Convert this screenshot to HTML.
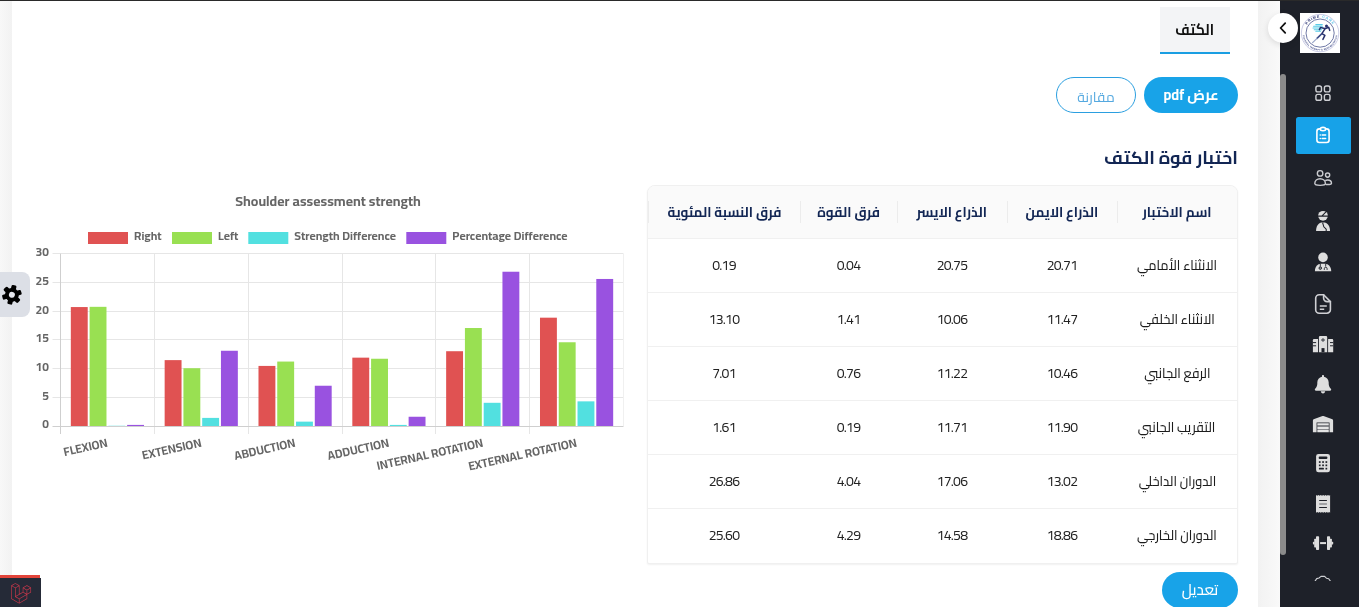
<!DOCTYPE html>
<html lang="ar" dir="rtl">
<head>
<meta charset="utf-8">
<title>اختبار قوة الكتف</title>
<style>
*{box-sizing:border-box;margin:0;padding:0}
html,body{width:1359px;height:607px;overflow:hidden;background:#f5f5f5}
body{position:relative;font-family:"Cairo","Liberation Sans","DejaVu Sans",sans-serif;font-size:14px;color:#1f2937;font-size-adjust:0.5}
.abs{position:absolute}
#topline{left:0;top:0;width:1359px;height:1px;background:#2a2a2a;z-index:50}
#leftstrip{left:0;top:2px;width:12px;height:605px;background:linear-gradient(90deg,#f8f8f8,#f2f2f2)}
#main{left:12px;top:1px;width:1246px;height:606px;background:#fff}
#rightstrip{left:1258px;top:1px;width:22px;height:606px;background:linear-gradient(90deg,#f2f2f2,#f9f9f9)}
#sidebar{left:1280px;top:1px;width:79px;height:606px;background:#1e2129}
#thumb{left:1280px;top:74px;width:6px;height:481px;background:#8b8b8b;border-radius:3px}
#collapse{left:1268px;top:13px;width:30px;height:30px;border-radius:50%;background:#fff;box-shadow:0 2px 6px rgba(0,0,0,.12)}

/* tab */
#tab{left:1160px;top:7px;width:70px;height:47px;background:#f3f4f6;border-bottom:2px solid #1a9ee2;display:flex;align-items:center;justify-content:center;font-weight:700;font-size:16px;color:#111;line-height:24px;padding-bottom:1px}
.btn{position:absolute;height:36px;border-radius:18px;display:flex;align-items:center;justify-content:center;font-size:14px;line-height:20px}
#btn-pdf{left:1144px;top:77px;width:94px;background:#18a3e8;color:#fff;font-weight:700;font-size:14.5px}
#btn-cmp{left:1056px;top:77px;width:80px;background:#fff;border:1px solid #2b9fe0;color:#55a9e0;padding-top:3px}
#btn-edit{left:1162px;top:572px;width:76px;background:#18a3e8;color:#fff;font-size:15px;font-weight:500}
#h2{right:121px;top:140px;height:36px;line-height:36px;font-size:18px;font-weight:700;color:#122654;white-space:nowrap}

/* table */
#tbl{left:647px;top:185px;width:591px;height:379px;border:1px solid #f0f0f0;border-radius:8px 8px 2px 2px;background:#fff;overflow:hidden;box-shadow:0 1px 2px rgba(0,0,0,.06)}
.row{position:absolute;left:0;width:589px;height:54px;border-top:1px solid #f0f0f0}
.row.head{top:0;height:52px;background:#fafafa;border-top:0;font-weight:700;color:#122654}
.cell{position:absolute;top:0;height:100%;display:flex;align-items:center;justify-content:center;white-space:nowrap;line-height:22px}
.c1{left:469px;width:120px}.c2{left:359px;width:110px}.c3{left:249px;width:110px}.c4{left:152px;width:97px}.c5{left:0;width:152px}
.head .cell::before{content:"";position:absolute;left:0;top:15px;width:1px;height:22px;background:#ececec}
.num{direction:ltr;color:#222;letter-spacing:-0.8px}
.c1 span{display:inline-block;transform:scaleX(.91);font-weight:500;color:#1c1c1c}
.head .cell span{display:inline-block;transform:scaleX(.96);font-weight:700;color:#122654}
.row:not(.head) .cell{padding-bottom:2px}
</style>
</head>
<body>
<div id="leftstrip" class="abs"></div>
<div id="main" class="abs"></div>
<div id="rightstrip" class="abs"></div>
<div id="sidebar" class="abs"></div>
<div id="topline" class="abs"></div>
<div id="thumb" class="abs"></div>

<!-- ICONS-START -->
<div id="collapse" class="abs"></div>
<svg class="abs" style="left:1260px;top:0" width="99" height="607" viewBox="1260 0 99 607">
  <!-- collapse chevron -->
  <path d="M1285.2 23.2 L1280.6 28 L1285.2 32.8" fill="none" stroke="#111" stroke-width="1.8" stroke-linecap="round" stroke-linejoin="round"/>
  <!-- logo -->
  <rect x="1300" y="13" width="40" height="40" fill="#fff"/>
  <circle cx="1320.100" cy="33.100" r="18.700" fill="none" stroke="#8d90c6" stroke-width="0.45"/>
  <circle cx="1320.100" cy="33.100" r="14.100" fill="none" stroke="#34407f" stroke-width="0.7"/>
  <path id="lgarc" d="M1304.800 33.100 A15.300 15.300 0 0 1 1335.400 33.100" fill="none"/>
  <path id="lgarc2" d="M1302.600 33.100 A17.500 17.500 0 0 0 1337.600 33.100" fill="none"/>
  <text font-family="'Liberation Sans',sans-serif" font-size="3.9" font-weight="700" fill="#2b3573" letter-spacing="0.75" direction="ltr"><textPath href="#lgarc" startOffset="50%" text-anchor="middle">PRIME <tspan fill="#5cc4ea">CARE</tspan></textPath></text>
  <text font-family="'Liberation Sans',sans-serif" font-size="2.4" font-weight="700" fill="#3b4686" letter-spacing="0.15" direction="ltr"><textPath href="#lgarc2" startOffset="50%" text-anchor="middle">PHYSICAL THERAPY &amp; REHABILITATION</textPath></text>
  <g>
    <path d="M1315.800 24.600h6.500M1313.600 26.300h8.800M1313 28h9.400M1314.200 29.700h7.400M1315.800 31.300h4.800" stroke="#58cbe6" stroke-width="1.050" fill="none" stroke-linecap="round"/>
    <circle cx="1326.500" cy="26" r="1.500" fill="#26306b"/>
    <path d="M1325.300 28.300 L1321.900 33.600 M1321.900 33.600 L1324.900 35.400 L1322.900 39.400 M1324.900 28.700 L1328.700 27.200 L1329.700 30.400 M1324.500 28.500 L1320.600 27.400 L1319.400 29.600" fill="none" stroke="#26306b" stroke-width="1.5" stroke-linecap="round" stroke-linejoin="round"/>
    <path d="M1321.900 33.600 L1317 38.400" fill="none" stroke="#3a4a86" stroke-width="1.500" stroke-linecap="round"/>
    <path d="M1317 38.400 L1312.600 42.600" fill="none" stroke="#9aa6c8" stroke-width="1.200" stroke-linecap="round"/>
  </g>

  <!-- 1 grid -->
  <g fill="none" stroke="#cfd0d4" stroke-width="1.4">
    <rect x="1315.9" y="86" width="5.6" height="5.9" rx="1.9"/>
    <rect x="1324.4" y="86" width="5.6" height="5.9" rx="1.9"/>
    <rect x="1315.9" y="94.4" width="5.6" height="5.9" rx="1.9"/>
    <rect x="1324.4" y="94.4" width="5.6" height="5.9" rx="1.9"/>
  </g>
  <!-- 2 active clipboard -->
  <rect x="1296" y="117" width="55" height="37" rx="2.5" fill="#17a2e8"/>
  <g fill="none" stroke="#fff" stroke-width="1.6" stroke-linecap="round" stroke-linejoin="round">
    <path d="M1320.2 128.9h-0.8a2.5 2.5 0 0 0-2.5 2.5v8.6a2.5 2.5 0 0 0 2.5 2.5h7.2a2.5 2.5 0 0 0 2.5-2.5v-8.6a2.5 2.5 0 0 0-2.5-2.5h-0.8"/>
    <ellipse cx="1323" cy="129.1" rx="2.7" ry="1.7"/>
    <path d="M1322.2 135h3.4M1322.2 138.5h3.4"/>
    <path d="M1320.2 135h0.1M1320.2 138.5h0.1" stroke-width="1.5"/>
  </g>
  <!-- 3 users -->
  <g fill="none" stroke="#cbccd0" stroke-width="1.4">
    <circle cx="1320.1" cy="173.4" r="2.75"/>
    <circle cx="1327.6" cy="175.1" r="2.1"/>
    <path d="M1314.8 183.6c0-2.9 2.4-4.9 5.3-4.9s5.3 2 5.3 4.9c0 1.2-2.4 1.8-5.3 1.8s-5.3-0.6-5.3-1.8z"/>
    <path d="M1325.2 180.6c0.7-0.4 1.5-0.6 2.4-0.6c2.2 0 3.9 1.4 3.9 3.2c0 0.9-1.8 1.3-3.9 1.3c-0.8 0-1.500-0.050-2.200-0.200"/>
  </g>
  <!-- 4 user injured -->
  <g fill="#dedede">
    <circle cx="1323" cy="215.8" r="4.850"/>
    <path d="M1316.1 231c0-5 2.600-8.200 5.400-8.400h3c2.800 0.200 5.500 3.400 5.500 8.400z"/>
  </g>
  <path d="M1318 216.100h10M1321.8 216.100l4.200-4.300M1322.600 222.600l1.200 4.200l2.400 2.400v1.800" stroke="#1e2129" stroke-width="1.1" fill="none"/>
  <!-- 5 doctor -->
  <g fill="#dedede">
    <circle cx="1323" cy="257.400" r="4.800"/>
    <path d="M1314.900 271.200c0-4.400 2.600-7.300 6.100-7.400h4c3.500 0.100 6.200 3 6.200 7.400z"/>
  </g>
  <g fill="none" stroke="#1e2129" stroke-width="0.9">
    <path d="M1320.300 263.800v2.800M1325.700 263.800v2.800"/>
    <circle cx="1320.300" cy="268.100" r="1.300" fill="#8f9094"/>
    <path d="M1324.300 269.900v-1.200a1.400 1.400 0 0 1 2.800 0v1.200"/>
  </g>
  <!-- 6 document -->
  <g fill="none" stroke="#cfd0d4" stroke-width="1.6" stroke-linejoin="round" stroke-linecap="round">
    <path d="M1323.600 294.800h-4.400a3.500 3.500 0 0 0-3.500 3.500v11.400a3.500 3.500 0 0 0 3.500 3.500h7.700a3.500 3.500 0 0 0 3.500-3.500v-8.100z"/>
    <path d="M1323.600 294.800v3.300a3.500 3.500 0 0 0 3.500 3.500h3.300"/>
    <path d="M1319.800 306h7M1319.800 309.300h4.400" stroke-width="1.500" stroke-linecap="butt"/>
  </g>
  <!-- 7 hospital -->
  <g fill="#dedede">
    <path d="M1318.900 337.200a1.200 1.200 0 0 1 1.200-1.200h5.900a1.200 1.200 0 0 1 1.200 1.200v15h-8.300z"/>
    <path d="M1312.900 340.200a1.100 1.100 0 0 1 1.100-1.100h4v13.100h-5.100z"/>
    <path d="M1328.100 339.100h4a1.100 1.100 0 0 1 1.100 1.100v12h-5.100z"/>
  </g>
  <g stroke="#1e2129" fill="none">
    <path d="M1312.900 342.600h3.200M1312.900 345.800h3.200M1333.200 342.600h-3.200M1333.200 345.800h-3.200" stroke-width="1"/>
    <path d="M1321.500 352.200v-4.100h3v4.100z" fill="#1e2129" stroke="none"/>
  </g>
  <path d="M1322.300 338.200h1.400v1.100h1.100v1.400h-1.100v1.100h-1.400v-1.100h-1.100v-1.400h1.100z" fill="#55585f"/>
  <!-- 8 bell -->
  <g fill="#dedede">
    <path d="M1323 375c0.600 0 1 0.400 1 1v0.700c2.800 0.500 4.700 2.800 4.700 5.800v1.200c0 1.800 0.700 3.500 1.900 4.800l0.300 0.300c0.400 0.400 0.400 0.900 0.200 1.300c-0.200 0.400-0.600 0.600-1 0.600h-14.200c-0.400 0-0.800-0.200-1-0.600c-0.200-0.400-0.200-0.900 0.200-1.300l0.300-0.300c1.200-1.300 1.900-3 1.900-4.800v-1.200c0-3 1.900-5.300 4.700-5.800v-0.700c0-0.600 0.400-1 1-1z"/>
    <path d="M1320.800 391.300h4.400c0 1.200-1 2.100-2.200 2.100s-2.200-0.900-2.200-2.100z"/>
  </g>
  <!-- 9 warehouse -->
  <path d="M1312.900 420.400c0-0.500 0.300-0.900 0.700-1.100l8.900-3.300c0.300-0.100 0.700-0.100 1 0l8.900 3.300c0.400 0.200 0.700 0.600 0.700 1.100v11.800h-3.600v-9.600h-12.900v9.600h-3.700z" fill="#dedede"/>
  <path d="M1317.300 423.300h11.500v2.300h-11.500zM1317.300 426.600h11.500v2.300h-11.500zM1317.300 429.900h11.500v2.300h-11.500z" fill="#e4e4e4"/>
  <path d="M1317.300 425.600h11.500v1h-11.500zM1317.300 428.900h11.500v1h-11.500z" fill="#8b8c90"/>
  <!-- 10 calculator -->
  <rect x="1316.100" y="453.900" width="13.900" height="18.400" rx="2.400" fill="#dedede"/>
  <g fill="#1e2129">
    <rect x="1318.700" y="456.600" width="8.700" height="2.500" rx="1"/>
    <rect x="1318.900" y="461.200" width="1.700" height="1.700"/><rect x="1322.200" y="461.200" width="1.700" height="1.700"/><rect x="1325.500" y="461.200" width="1.700" height="1.700"/>
    <rect x="1318.900" y="464.500" width="1.700" height="1.700"/><rect x="1322.200" y="464.500" width="1.700" height="1.700"/><rect x="1325.500" y="464.500" width="1.700" height="1.700"/>
    <rect x="1318.900" y="467.800" width="5" height="1.700" rx="0.500"/><rect x="1325.500" y="467.800" width="1.700" height="1.700"/>
  </g>
  <!-- 11 receipt -->
  <path d="M1316 494.900l1.200 0.900l1.200-0.900l1.200 0.900l1.200-0.900l1.200 0.900l1.200-0.900l1.200 0.900l1.200-0.900l1.200 0.900l1.200-0.900l1.200 0.900l0.900-0.900v17.900l-0.900-0.900l-1.200 0.900l-1.200-0.900l-1.200 0.900l-1.200-0.900l-1.200 0.900l-1.200-0.900l-1.200 0.900l-1.200-0.900l-1.200 0.900l-1.200-0.900l-1.200 0.900z" fill="#dedede"/>
  <path d="M1319.200 500.500h7.700M1319.200 507.500h7.700" stroke="#1e2129" stroke-width="1.100"/>
  <path d="M1319.200 504h7.700" stroke="#8b8c90" stroke-width="1.500"/>
  <!-- 12 dumbbell -->
  <g fill="#dedede">
    <rect x="1316" y="536.200" width="3.100" height="13.800" rx="0.800"/>
    <rect x="1314.200" y="538.700" width="2.200" height="8.800" rx="0.700"/>
    <rect x="1312.900" y="541.800" width="1.700" height="2.600" rx="0.600"/>
    <rect x="1320.100" y="542.100" width="5.900" height="2" />
    <rect x="1327" y="536.200" width="3.100" height="13.800" rx="0.800"/>
    <rect x="1329.700" y="538.700" width="2.200" height="8.800" rx="0.700"/>
    <rect x="1331.500" y="541.800" width="1.700" height="2.600" rx="0.600"/>
  </g>
  <!-- 13 gear (clipped) -->
  <clipPath id="gclip"><rect x="1300" y="570" width="50" height="11"/></clipPath>
  <path clip-path="url(#gclip)" d="M1314.600 581.800L1316.700 578.600L1319 578L1321 576.400L1324.600 576.400L1326.400 578.200L1328.700 578.700L1330.900 581.800" fill="none" stroke="#cfd0d4" stroke-width="1.100" stroke-linejoin="round" stroke-linecap="round"/>
</svg>
<!-- ICONS-END -->

<!-- CONTENT -->
<div id="tab" class="abs"><span style="display:inline-block;transform:scaleX(.86)">الكتف</span></div>
<div id="btn-pdf" class="btn">عرض pdf</div>
<div id="btn-cmp" class="btn">مقارنة</div>
<div id="h2" class="abs">اختبار قوة الكتف</div>

<div id="tbl" class="abs">
  <div class="row head">
    <div class="cell c1"><span>اسم الاختبار</span></div><div class="cell c2"><span>الذراع الايمن</span></div><div class="cell c3"><span>الذراع الايسر</span></div><div class="cell c4"><span>فرق القوة</span></div><div class="cell c5"><span>فرق النسبة المئوية</span></div>
  </div>
  <div class="row" style="top:52px"><div class="cell c1"><span>الانثناء الأمامي</span></div><div class="cell c2 num">20.71</div><div class="cell c3 num">20.75</div><div class="cell c4 num">0.04</div><div class="cell c5 num">0.19</div></div>
  <div class="row" style="top:106px"><div class="cell c1"><span>الانثناء الخلفي</span></div><div class="cell c2 num">11.47</div><div class="cell c3 num">10.06</div><div class="cell c4 num">1.41</div><div class="cell c5 num">13.10</div></div>
  <div class="row" style="top:160px"><div class="cell c1"><span>الرفع الجانبي</span></div><div class="cell c2 num">10.46</div><div class="cell c3 num">11.22</div><div class="cell c4 num">0.76</div><div class="cell c5 num">7.01</div></div>
  <div class="row" style="top:214px"><div class="cell c1"><span>التقريب الجانبي</span></div><div class="cell c2 num">11.90</div><div class="cell c3 num">11.71</div><div class="cell c4 num">0.19</div><div class="cell c5 num">1.61</div></div>
  <div class="row" style="top:268px"><div class="cell c1"><span>الدوران الداخلي</span></div><div class="cell c2 num">13.02</div><div class="cell c3 num">17.06</div><div class="cell c4 num">4.04</div><div class="cell c5 num">26.86</div></div>
  <div class="row" style="top:322px;height:55px"><div class="cell c1"><span>الدوران الخارجي</span></div><div class="cell c2 num">18.86</div><div class="cell c3 num">14.58</div><div class="cell c4 num">4.29</div><div class="cell c5 num">25.60</div></div>
</div>
<div id="btn-edit" class="btn">تعديل</div>

<!-- CHART-START -->
<svg id="chart" class="abs" style="left:0;top:0" width="640" height="500" viewBox="0 0 640 500" direction="ltr" font-family="Cairo, 'Liberation Sans', 'DejaVu Sans', sans-serif" font-size="12" font-weight="700" fill="#666">
<path d="M52.5 397.5H623.5M52.5 368.5H623.5M52.5 339.5H623.5M52.5 311.5H623.5M52.5 282.5H623.5M52.5 253.5H623.5M154.5 253.7V434.0M248.5 253.7V434.0M342.5 253.7V434.0M435.5 253.7V434.0M529.5 253.7V434.0" stroke="#e6e6e6" stroke-width="1" fill="none"/>
<path d="M52.5 426.5H623.5M60.5 253.7V434.0" stroke="#cfcfcf" stroke-width="1" fill="none"/>
<path d="M623.5 253.7V426.0" stroke="#f0f0f0" stroke-width="1" fill="none"/>
<rect x="70.82" y="307.06" width="16.89" height="118.94" fill="#e05252"/>
<rect x="89.59" y="306.83" width="16.89" height="119.17" fill="#99e052"/>
<rect x="108.35" y="425.77" width="16.89" height="0.23" fill="#52e0e0"/>
<rect x="127.12" y="424.91" width="16.89" height="1.09" fill="#9952e0"/>
<rect x="164.65" y="360.12" width="16.89" height="65.88" fill="#e05252"/>
<rect x="183.42" y="368.22" width="16.89" height="57.78" fill="#99e052"/>
<rect x="202.19" y="417.90" width="16.89" height="8.10" fill="#52e0e0"/>
<rect x="220.95" y="350.76" width="16.89" height="75.24" fill="#9952e0"/>
<rect x="258.49" y="365.92" width="16.89" height="60.08" fill="#e05252"/>
<rect x="277.25" y="361.56" width="16.89" height="64.44" fill="#99e052"/>
<rect x="296.02" y="421.64" width="16.89" height="4.36" fill="#52e0e0"/>
<rect x="314.79" y="385.74" width="16.89" height="40.26" fill="#9952e0"/>
<rect x="352.32" y="357.65" width="16.89" height="68.35" fill="#e05252"/>
<rect x="371.09" y="358.75" width="16.89" height="67.25" fill="#99e052"/>
<rect x="389.85" y="424.91" width="16.89" height="1.09" fill="#52e0e0"/>
<rect x="408.62" y="416.75" width="16.89" height="9.25" fill="#9952e0"/>
<rect x="446.15" y="351.22" width="16.89" height="74.78" fill="#e05252"/>
<rect x="464.92" y="328.02" width="16.89" height="97.98" fill="#99e052"/>
<rect x="483.69" y="402.80" width="16.89" height="23.20" fill="#52e0e0"/>
<rect x="502.45" y="271.73" width="16.89" height="154.27" fill="#9952e0"/>
<rect x="539.99" y="317.68" width="16.89" height="108.32" fill="#e05252"/>
<rect x="558.75" y="342.26" width="16.89" height="83.74" fill="#99e052"/>
<rect x="577.52" y="401.36" width="16.89" height="24.64" fill="#52e0e0"/>
<rect x="596.29" y="278.97" width="16.89" height="147.03" fill="#9952e0"/>
<text textLength="6.7" lengthAdjust="spacingAndGlyphs" x="49" y="428.2" text-anchor="end">0</text>
<text textLength="6.7" lengthAdjust="spacingAndGlyphs" x="49" y="399.5" text-anchor="end">5</text>
<text textLength="13.4" lengthAdjust="spacingAndGlyphs" x="49" y="370.9" text-anchor="end">10</text>
<text textLength="13.4" lengthAdjust="spacingAndGlyphs" x="49" y="342.2" text-anchor="end">15</text>
<text textLength="13.4" lengthAdjust="spacingAndGlyphs" x="49" y="313.5" text-anchor="end">20</text>
<text textLength="13.4" lengthAdjust="spacingAndGlyphs" x="49" y="284.9" text-anchor="end">25</text>
<text textLength="13.4" lengthAdjust="spacingAndGlyphs" x="49" y="256.2" text-anchor="end">30</text>
<text textLength="44.8" lengthAdjust="spacingAndGlyphs" x="107.4" y="446.5" text-anchor="end" transform="rotate(-12.6 107.4 442.3)">FLEXION</text>
<text textLength="60.5" lengthAdjust="spacingAndGlyphs" x="201.2" y="446.5" text-anchor="end" transform="rotate(-12.6 201.2 442.3)">EXTENSION</text>
<text textLength="62.3" lengthAdjust="spacingAndGlyphs" x="295.1" y="446.5" text-anchor="end" transform="rotate(-12.6 295.1 442.3)">ABDUCTION</text>
<text textLength="62.7" lengthAdjust="spacingAndGlyphs" x="388.9" y="446.5" text-anchor="end" transform="rotate(-12.6 388.9 442.3)">ADDUCTION</text>
<text textLength="108.6" lengthAdjust="spacingAndGlyphs" x="482.8" y="446.5" text-anchor="end" transform="rotate(-12.6 482.8 442.3)">INTERNAL ROTATION</text>
<text textLength="110.8" lengthAdjust="spacingAndGlyphs" x="576.6" y="446.5" text-anchor="end" transform="rotate(-12.6 576.6 442.3)">EXTERNAL ROTATION</text>
<text textLength="185.4" lengthAdjust="spacingAndGlyphs" x="328" y="206" text-anchor="middle" font-weight="700" font-size="14">Shoulder assessment strength</text>
<rect x="88" y="232" width="40" height="12" fill="#e05252"/>
<text textLength="27.6" lengthAdjust="spacingAndGlyphs" x="134" y="240">Right</text>
<rect x="172" y="232" width="40" height="12" fill="#99e052"/>
<text textLength="20.4" lengthAdjust="spacingAndGlyphs" x="218" y="240">Left</text>
<rect x="248.3" y="232" width="40" height="12" fill="#52e0e0"/>
<text textLength="101.8" lengthAdjust="spacingAndGlyphs" x="294.3" y="240">Strength Difference</text>
<rect x="406.3" y="232" width="40" height="12" fill="#9952e0"/>
<text textLength="115.3" lengthAdjust="spacingAndGlyphs" x="452.3" y="240">Percentage Difference</text>
</svg>
<!-- CHART-END -->

<!-- MISC-START -->
<div class="abs" style="left:0;top:272px;width:30px;height:45px;background:#dcdfe6;border-radius:0 8px 8px 0"></div>
<svg class="abs" style="left:0;top:270px" width="40" height="50" viewBox="0 270 40 50">
  <g transform="translate(11.9 294.8) rotate(14)">
    <g fill="#000">
      <circle r="6.9"/>
      <g id="teeth">
        <rect x="-2.5" y="-9.8" width="5" height="19.600" rx="1.300"/>
        <rect x="-2.5" y="-9.8" width="5" height="19.600" rx="1.300" transform="rotate(60)"/>
        <rect x="-2.5" y="-9.8" width="5" height="19.600" rx="1.300" transform="rotate(120)"/>
      </g>
    </g>
    <circle r="3" fill="#e6e8ee"/>
  </g>
</svg>
<div class="abs" style="left:0;top:575px;width:40px;height:3px;background:#e2443a"></div>
<div class="abs" style="left:0;top:578px;width:41px;height:29px;background:#252a37"></div>
<svg class="abs" style="left:0;top:578px" width="41" height="29" viewBox="0 578 41 29">
  <g transform="translate(11.2 583.1) scale(0.4)">
  <path fill="#c8374a" d="M49.626 11.564a.809.809 0 0 1 .028.209v10.972a.8.8 0 0 1-.402.694l-9.209 5.302V39.25c0 .286-.152.55-.4.694L20.42 51.01c-.044.025-.092.041-.14.058-.018.006-.035.017-.054.022a.805.805 0 0 1-.41 0c-.022-.006-.042-.018-.063-.026-.044-.016-.09-.03-.132-.054L.402 39.944A.801.801 0 0 1 0 39.25V6.334c0-.072.01-.142.028-.21.006-.023.02-.044.028-.067.015-.042.029-.085.051-.124.015-.026.037-.047.055-.071.023-.032.044-.065.071-.093.023-.023.053-.04.079-.06.029-.024.055-.05.088-.069h.001l9.61-5.533a.802.802 0 0 1 .8 0l9.61 5.533h.002c.032.02.059.045.088.068.026.02.055.038.078.06.028.029.048.062.072.094.017.024.04.045.054.071.023.04.036.082.052.124.008.023.022.044.028.068a.809.809 0 0 1 .028.209v20.559l8.008-4.611v-10.51c0-.07.01-.141.028-.208.007-.024.02-.045.028-.068.016-.042.03-.085.052-.124.015-.026.037-.047.054-.071.024-.032.044-.065.072-.093.023-.023.052-.04.078-.06.03-.024.056-.05.088-.069h.001l9.611-5.533a.801.801 0 0 1 .8 0l9.61 5.533c.034.02.06.045.09.068.025.02.054.038.077.06.028.029.048.062.072.094.018.024.04.045.054.071.023.039.036.082.052.124.009.023.022.044.028.068zm-1.574 10.718v-9.124l-3.363 1.936-4.646 2.675v9.124l8.01-4.611zm-9.61 16.505v-9.13l-4.57 2.61-13.05 7.448v9.216l17.62-10.144zM1.602 7.719v31.068L19.22 48.93v-9.214l-9.204-5.209-.003-.002-.004-.002c-.031-.018-.057-.044-.086-.066-.025-.02-.054-.036-.076-.058l-.002-.003c-.026-.025-.044-.056-.066-.084-.02-.027-.044-.05-.06-.078l-.001-.003c-.018-.03-.029-.066-.042-.1-.013-.03-.03-.058-.038-.09v-.001c-.01-.038-.012-.078-.016-.117-.004-.03-.012-.06-.012-.09v-.002-21.481L4.965 9.654 1.602 7.72zm8.81-5.994L2.405 6.334l8.005 4.609 8.006-4.61-8.006-4.608zm4.164 28.764l4.645-2.674V7.719l-3.363 1.936-4.646 2.675v20.096l3.364-1.937zM39.243 7.164l-8.006 4.609 8.006 4.609 8.005-4.61-8.005-4.608zm-.801 10.605l-4.646-2.675-3.363-1.936v9.124l4.645 2.674 3.364 1.937v-9.124zM20.02 38.33l11.743-6.704 5.87-3.35-8-4.606-9.211 5.303-8.395 4.833 7.993 4.524z"/>
  </g>
</svg>
<!-- MISC-END -->
</body>
</html>
